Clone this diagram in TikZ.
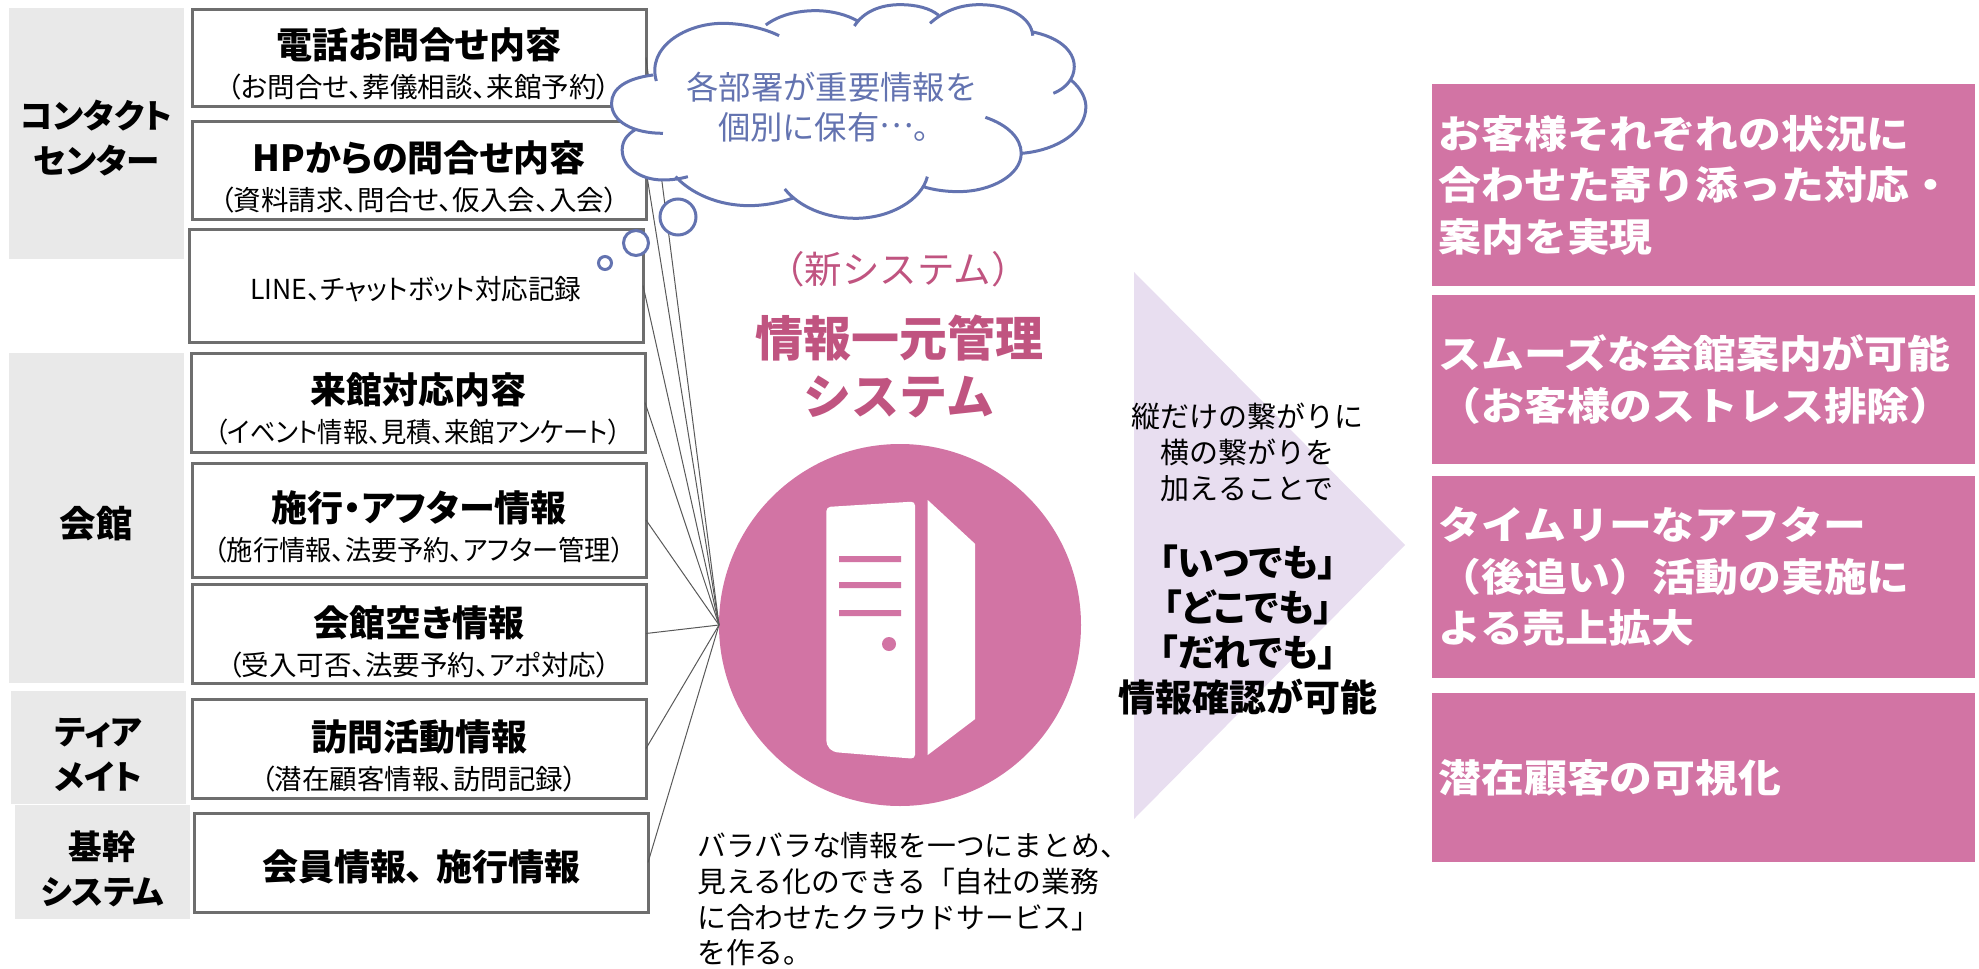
\documentclass[tikz,border=0pt]{standalone}
\usepackage{fontspec}
\usepackage{xcolor}
\usepackage{graphicx}
\setmainfont{Noto Sans CJK JP}
\newfontfamily\palfont[RawFeature=+palt]{Noto Sans CJK JP}
\newfontfamily\widefont[FakeStretch=1.11]{Noto Sans CJK JP}
\usetikzlibrary{
    positioning
}
\definecolor{blockgray}{HTML}{E9E9E9}
\definecolor{edgegray}{HTML}{6E6E6E}
\definecolor{linkgray}{HTML}{595959}
\definecolor{cloudblue}{HTML}{6373B0}
\definecolor{hubpink}{HTML}{D274A4}
\definecolor{titlepink}{HTML}{C05480}
\definecolor{arrowlilac}{HTML}{E8DEF0}
\newcommand{\boxtitle}[1]{{\fontsize{36}{36}\selectfont\bfseries #1}}
\newcommand{\squeezed}[2]{\scalebox{#1}[1]{#2}}
\tikzset{
  block/.style 2 args = {
      fill=blockgray,
      anchor=north west,
      text width=175pt,
      inner sep=0pt,
      outer sep=0pt,
      align=center,
      text height=#1,
      text depth=#2,
      font=\fontsize{33.5}{45}\selectfont\palfont\bfseries
  },
  infobox/.style 2 args = {
      draw=edgegray,
      line width=3pt,
      fill=white,
      anchor=north west,
      text width=454pt,
      inner sep=0pt,
      outer sep=0pt,
      align=center,
      text height=#1,
      text depth=#2,
      font=\fontsize{27.5}{39}\selectfont\palfont
  },
  link/.style = {
      draw=linkgray,
      line width=1pt
  },
  cloudline/.style = {
      draw=cloudblue,
      line width=3pt
  },
  bubble/.style = {
      circle,
      cloudline,
      fill=white,
      inner sep=0pt
  },
  hub/.style = {
      circle,
      fill=hubpink,
      minimum size=362pt,
      inner sep=0pt,
      outer sep=0pt
  },
  result/.style = {
      fill=hubpink,
      text=white,
      text width=530pt,
      inner xsep=6.5pt,
      inner ysep=0pt,
      outer sep=0pt,
      align=left,
      font=\fontsize{38.6}{51.5}\selectfont\widefont\bfseries
  },
  plaintext/.style = {
      inner sep=0pt,
      align=center
  }
}
% lobes of the cloud, as open strokes
\newcommand{\cloudlobes}{
    (190,225) .. controls (110,235) and (65,265) .. (65,310) .. controls (65,365) and (130,400) .. (220,400)
    (200,243) .. controls (170,140) and (290,70) .. (400,70) .. controls (460,70) and (525,85) .. (570,107)
    (530,75) .. controls (570,45) and (625,32) .. (680,32) .. controls (730,32) and (775,45) .. (805,62)
    (797,78) .. controls (825,35) and (875,14) .. (935,14) .. controls (985,14) and (1025,25) .. (1050,45)
    (1025,70) .. controls (1070,30) and (1120,14) .. (1175,14) .. controls (1260,14) and (1330,50) .. (1335,107)
    (1330,95) .. controls (1410,110) and (1460,150) .. (1460,200) .. controls (1460,235) and (1435,265) .. (1397,280)
    (1450,240) .. controls (1480,265) and (1495,295) .. (1495,320) .. controls (1495,395) and (1410,450) .. (1303,460)
    (1192,352) .. controls (1260,375) and (1300,415) .. (1300,460) .. controls (1300,525) and (1210,575) .. (1110,575) .. controls (1075,575) and (1035,570) .. (1005,560)
    (1017,530) .. controls (1000,600) and (905,655) .. (800,655) .. controls (710,655) and (630,620) .. (587,567)
    (610,595) .. controls (565,610) and (520,617) .. (480,617) .. controls (385,617) and (305,580) .. (258,530)
    (295,530) .. controls (270,537) and (245,540) .. (220,540) .. controls (150,540) and (97,500) .. (97,450) .. controls (97,425) and (110,405) .. (135,390)
}
\begin{document}
\begin{tikzpicture}[x=1pt, y=-1pt]
    \useasboundingbox (0,0) rectangle (1979,969);
    % Side blocks
    \node[block={120pt}{131pt}] (contact) at (9,8) {コンタクト\\センター};
    \node[block={184pt}{146pt}] (hall) at (9,353) {{\fontsize{36.5}{45}\selectfont 会館}};
    \node[block={53pt}{60pt}] (mate) at (11,691) {ティア\\メイト};
    \node[block={54pt}{60pt}] (core) at (15,805) {基幹\\システム};
    % Info boxes
    \node[infobox={49pt}{48pt}] (box1) at (192,9) {\boxtitle{電話お問合せ内容}\\（お問合せ、葬儀相談、来館予約）};
    \node[infobox={50pt}{48pt}] (box2) at (192,121) {\boxtitle{HPからの問合せ内容}\\（資料請求、問合せ、仮入会、入会）};
    \node[infobox={70pt}{43pt}] (box3) at (189,229) {\squeezed{.967}{LINE、チャットボット対応記録}};
    \node[infobox={50pt}{49pt}] (box4) at (191,353) {\boxtitle{来館対応内容}\\\squeezed{.92}{（イベント情報、見積、来館アンケート）}};
    \node[infobox={58pt}{56pt}] (box5) at (192,463) {\boxtitle{施行・アフター情報}\\\squeezed{.955}{（施行情報、法要予約、アフター管理）}};
    \node[infobox={52pt}{47pt}] (box6) at (192,584) {\boxtitle{会館空き情報}\\（受入可否、法要予約、アポ対応）};
    \node[infobox={51pt}{48pt}] (box7) at (192,699) {\boxtitle{訪問活動情報}\\（潜在顧客情報、訪問記録）};
    \node[infobox={67pt}{32pt}] (box8) at (194,813) {\boxtitle{会員情報、\hspace{12pt}施行情報}};
    % Hub
    \node[hub] (server) at (900,625) {};
    % Edges
    \path[link]
    (box1.east) edge (server.west)
    (box2.east) edge (server.west)
    (box3.east) edge (server.west)
    (box4.east) edge (server.west)
    (box5.east) edge (server.west)
    (box6.east) edge (server.west)
    (box7.east) edge (server.west)
    (box8.east) edge (server.west);
    % Server icon
    \fill[white, rounded corners=4pt] (826.4,507) -- (915,501.5) -- (915,758.8) -- (833,752) -- (826.4,745) -- cycle;
    \fill[white] (927.7,500) -- (975.2,544) -- (975.2,719) -- (927.7,755) -- cycle;
    \fill[hubpink] (839,556) rectangle (901,562) (839,582) rectangle (901,588) (839,610) rectangle (901,616);
    \fill[hubpink] (889,644) circle (7);
    % Cloud
    \begin{scope}[shift={(590,0)}, x=0.3317pt, y=-0.3333pt]
        \fill[white] \cloudlobes;
        \fill[white] (200,240) -- (530,80) -- (1330,100) -- (1390,280) -- (1300,460) -- (1010,550) -- (600,580) -- (260,530) -- (135,390) -- cycle;
        \draw[cloudline] \cloudlobes;
    \end{scope}
    \node[bubble, minimum size=36pt] (bubbleA) at (678,217) {};
    \node[bubble, minimum size=25pt] (bubbleB) at (636,243) {};
    \node[bubble, minimum size=13pt] (bubbleC) at (605,263) {};
    \node[plaintext, text=cloudblue, font=\fontsize{32.3}{40}\selectfont] (cloudtext) at (832,107) {各部署が重要情報を\\個別に保有\raisebox{.36em}{…}。};
    % Titles
    \node[plaintext, text=titlepink, font=\fontsize{37.5}{37.5}\selectfont] (newsys) at (898,269) {（新システム）};
    \node[plaintext, text=titlepink, font=\fontsize{48}{58}\selectfont\bfseries] (sysname) at (899,367) {情報一元管理\\システム};
    % Arrow
    \fill[arrowlilac] (1134,272) -- (1405,545) -- (1134,819) -- cycle;
    \node[plaintext, font=\fontsize{29}{36}\selectfont] (lead) at (1247,452) {縦だけの繋がりに\\横の繋がりを\\加えることで};
    \node[plaintext, font=\fontsize{37}{45}\selectfont\palfont\bfseries] (anytime) at (1248,630) {「いつでも」\\「どこでも」\\「だれでも」\\情報確認が可能};
    % Note
    \node[plaintext, anchor=north west, align=left, font=\fontsize{28.8}{35.8}\selectfont] (note) at (697,832) {バラバラな情報を一つにまとめ、\\見える化のできる「自社の業務\\に合わせたクラウドサービス」\\を作る。};
    % Results
    \node[result, minimum height=202pt, anchor=north west] (res1) at (1432,84) {お客様それぞれの状況に\\合わせた寄り添った対応・\\案内を実現};
    \node[result, minimum height=169pt, below=9pt of res1] (res2) {スムーズな会館案内が可能\\（お客様のストレス排除）};
    \node[result, minimum height=202pt, below=12pt of res2] (res3) {タイムリーなアフター\\（後追い）活動の実施に\\よる売上拡大};
    \node[result, minimum height=169pt, below=15pt of res3] (res4) {潜在顧客の可視化};
\end{tikzpicture}
\end{document}
